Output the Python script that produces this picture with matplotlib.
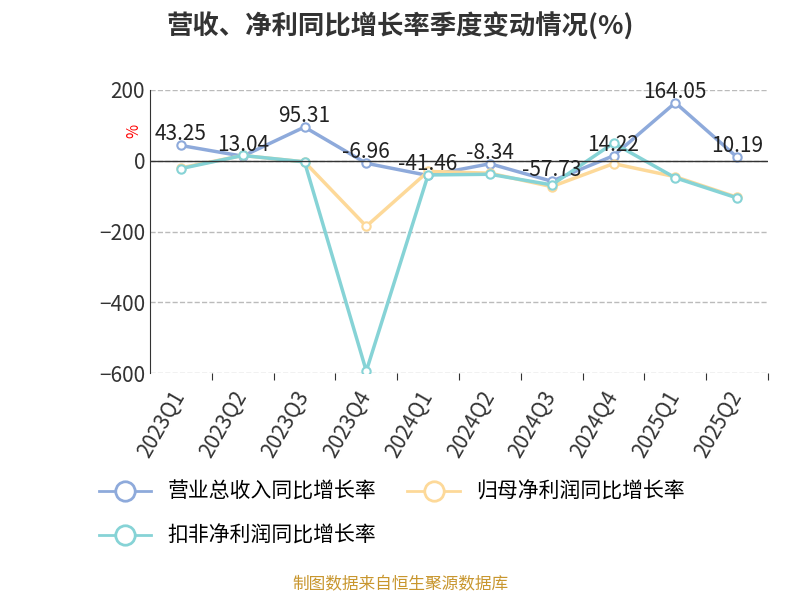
import matplotlib.pyplot as plt
from matplotlib.lines import Line2D

plt.rcParams['font.family'] = ['Noto Sans CJK SC', 'DejaVu Sans']

quarters = ['2023Q1', '2023Q2', '2023Q3', '2023Q4', '2024Q1', '2024Q2',
            '2024Q3', '2024Q4', '2025Q1', '2025Q2']
revenue = [43.25, 13.04, 95.31, -6.96, -41.46, -8.34, -57.73, 14.22, 164.05, 10.19]
net_profit = [-20, 15, -3, -185, -30, -35, -73, -8, -45, -103]
deducted = [-22, 15, -3, -594, -40, -38, -68, 50, -48, -105]

series = [
    ('营业总收入同比增长率', revenue, '#8eaadb'),
    ('归母净利润同比增长率', net_profit, '#fdd999'),
    ('扣非净利润同比增长率', deducted, '#86d3d6'),
]

fig = plt.figure(figsize=(8, 6), dpi=100)
ax = fig.add_axes([0.1875, 0.378, 0.7725, 0.472])
x = range(len(quarters))
for name, vals, color in series:
    ax.plot(x, vals, color=color, lw=2.5, marker='o', ms=6,
            mfc='white', mec=color, mew=1.5)
for i, v in enumerate(revenue):
    ax.text(i, v, f'{v:.2f}', ha='center', va='bottom', fontsize=15, color='#222222')

ax.set_xlim(-0.5, len(quarters) - 0.5)
ax.set_ylim(-600, 200)
ax.set_yticks([-600, -400, -200, 0, 200])
ax.tick_params(axis='y', labelsize=15, colors='#333333', length=0)
ax.grid(axis='y', ls='--', color='#bbbbbb', lw=1)
ax.set_axisbelow(True)
for s in ['top', 'right', 'bottom']:
    ax.spines[s].set_visible(False)
ax.spines['left'].set_color('#333333')
ax.axhline(0, color='#333333', lw=1)
ax.set_xticks([i + 0.5 for i in range(len(quarters))], minor=False)
ax.set_xticklabels([])
ax.tick_params(axis='x', length=5, color='#333333', direction='out')
for i, q in enumerate(quarters):
    ax.text(i + 0.15, -640, q, rotation=60, ha='right', va='top', fontsize=15, color='#333333')
ax.text(-0.9, 85, '%', color='red', fontsize=11, rotation=90, va='center')

fig.text(0.5, 0.955, '营收、净利同比增长率季度变动情况(%)', ha='center', va='center',
         fontsize=19, fontweight='bold', color='#333333')

handles = [Line2D([], [], color=c, lw=2, marker='o', ms=14, mfc='white', mec=c, mew=2)
           for _, _, c in series]
labels = [n for n, _, _ in series]
fig.legend(handles[:2], labels[:2], loc='center left', bbox_to_anchor=(0.1, 0.18),
           ncol=2, frameon=False, fontsize=15, handlelength=2.5, columnspacing=1.5)
fig.legend(handles[2:], labels[2:], loc='center left', bbox_to_anchor=(0.1, 0.107),
           frameon=False, fontsize=15, handlelength=2.5)
fig.text(0.5, 0.018, '制图数据来自恒生聚源数据库', ha='center', fontsize=12, color='#c8962e')

fig.savefig('out.png')
